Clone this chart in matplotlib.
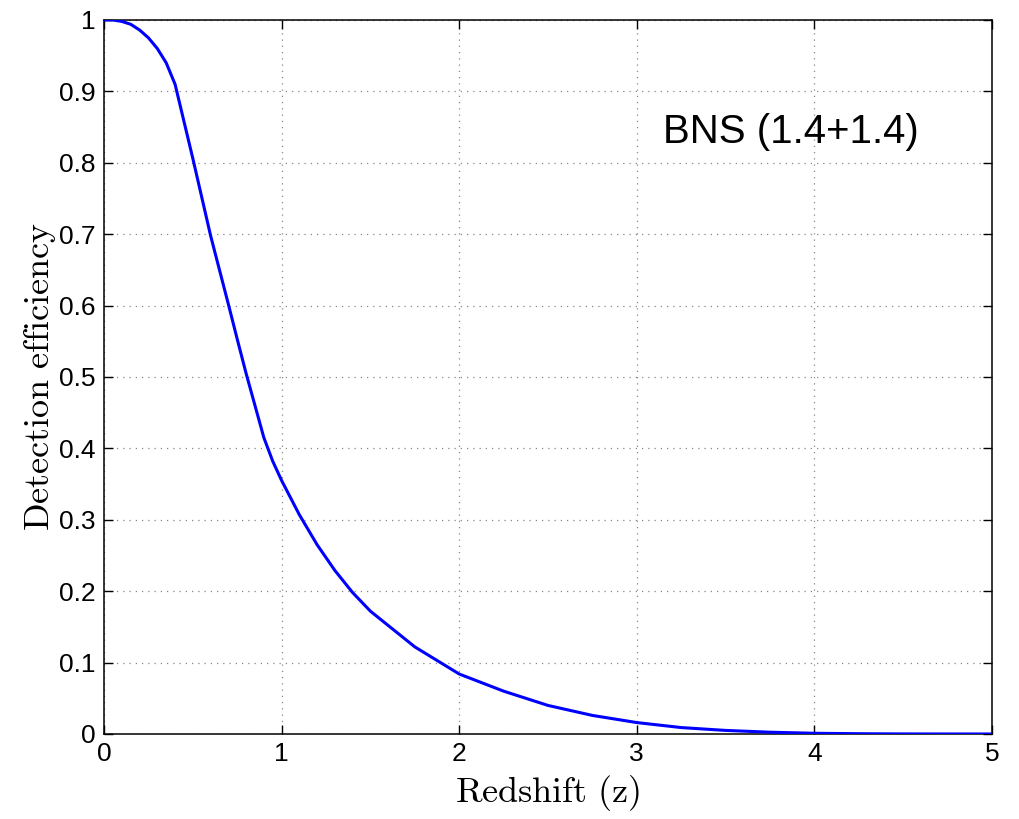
import matplotlib
matplotlib.use("Agg")
import matplotlib.pyplot as plt
from matplotlib.ticker import FuncFormatter

redshift = [0.0, 0.05, 0.1, 0.15, 0.2, 0.25, 0.3, 0.35, 0.4, 0.45, 0.5,
            0.55, 0.6, 0.65, 0.7, 0.75, 0.8, 0.85, 0.9, 0.95, 1.0, 1.1, 1.2,
            1.3, 1.4, 1.5, 1.75, 2.0, 2.25, 2.5, 2.75, 3.0, 3.25, 3.5,
            3.75, 4.0, 4.25, 4.5, 5.0]
efficiency = [1.0, 1.0, 0.998, 0.994, 0.986, 0.975, 0.96, 0.94, 0.91, 0.858,
              0.806, 0.752, 0.698, 0.65, 0.602, 0.553, 0.505, 0.46, 0.415,
              0.382, 0.355, 0.307, 0.265, 0.229, 0.198, 0.172, 0.122, 0.084,
              0.06, 0.040, 0.026, 0.016, 0.009, 0.005, 0.0025, 0.001, 0.0004,
              0.0001, 0.0]
xticks = [0, 1, 2, 3, 4, 5]
yticks = [0, 0.1, 0.2, 0.3, 0.4, 0.5, 0.6, 0.7, 0.8, 0.9, 1]
annotation = "BNS (1.4+1.4)"

plt.rcParams['font.family'] = ['Liberation Sans', 'DejaVu Sans']
plt.rcParams['mathtext.fontset'] = 'cm'

fig = plt.figure(figsize=(10.2, 8.19), dpi=100)
ax = fig.add_axes([0.102, 0.1038, 0.8705, 0.8718])
ax.plot(redshift, efficiency, color=(0, 0, 1), lw=2.2, zorder=3)
ax.set_xlim(0, 5)
ax.set_ylim(0, 1)
ax.set_xticks(xticks)
ax.set_yticks(yticks)
ax.yaxis.set_major_formatter(FuncFormatter(lambda v, p: f"{v:g}"))
ax.xaxis.set_major_formatter(FuncFormatter(lambda v, p: f"{v:g}"))
ax.grid(True, linestyle=(0, (1, 4)), color='#888888', lw=0.9)
ax.tick_params(direction='in', length=6.5, width=1, top=True, right=True,
               labelsize=19, pad=6)
for s in ax.spines.values():
    s.set_linewidth(1.1)
ax.set_xlabel(r'$\mathrm{Redshift\ (z)}$', fontsize=26, labelpad=5)
ax.set_ylabel(r'$\mathrm{Detection\ efficiency}$', fontsize=26, labelpad=1)
ax.text(3.147, 0.843, annotation, fontsize=29, ha='left', va='center')
fig.savefig("out.png", dpi=100)
